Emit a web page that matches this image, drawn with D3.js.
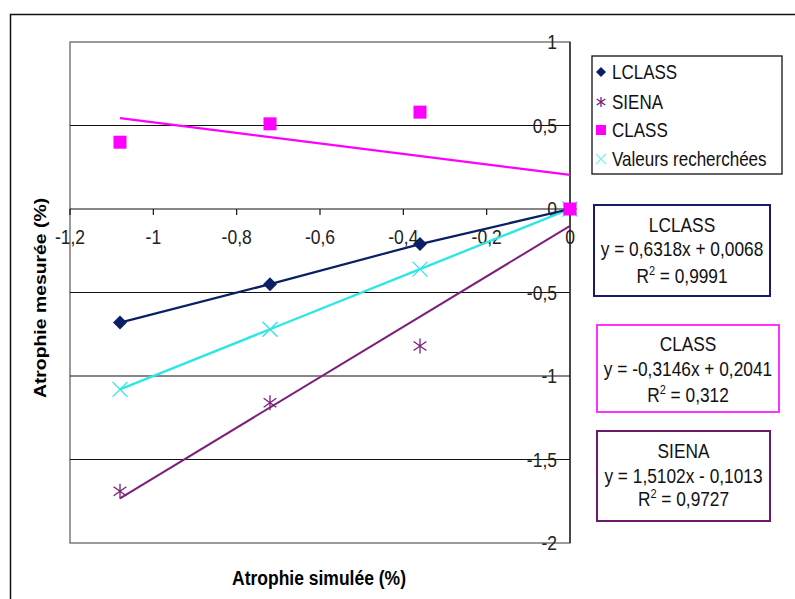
<!DOCTYPE html>
<html><head><meta charset="utf-8">
<script src="https://cdn.jsdelivr.net/npm/d3@7"></script>
<style>body{margin:0;background:#fff}svg{display:block}text{font-family:Arial,"Liberation Sans",sans-serif}</style>
</head><body><svg id="c" width="795" height="599"></svg>
<script>
const xValues = [-1.08, -0.72, -0.36, 0];
const lclass = [-0.68, -0.45, -0.21, 0];
const siena = [-1.69, -1.16, -0.82, 0];
const classV = [0.40, 0.51, 0.58, 0];
const valeurs = [-1.08, -0.72, -0.36, 0];
const xTicks = [-1.2, -1, -0.8, -0.6, -0.4, -0.2, 0];
const yTicks = [1, 0.5, 0, -0.5, -1, -1.5, -2];
const seriesNames = ["LCLASS", "SIENA", "CLASS", "Valeurs recherchées"];
const trendNames = ["LCLASS", "CLASS", "SIENA"];
const trendSlopes = [0.6318, -0.3146, 1.5102];
const trendIntercepts = [0.0068, 0.2041, -0.1013];
const trendEq = ["y = 0,6318x + 0,0068", "y = -0,3146x + 0,2041", "y = 1,5102x - 0,1013"];
const trendR2 = ["0,9991", "0,312", "0,9727"];

const C = {navy:"#0b1f66", purple:"#7b1f7b", magenta:"#ff00ff", cyan:"#2ee6e6", box1:"#1a1a6a", box2:"#ff33ff", box3:"#6a1a6a"};
const SY = 1.14;
const svg = d3.select("#c");
const x = d3.scaleLinear().domain([-1.2, 0]).range([70, 570]);
const y = d3.scaleLinear().domain([-2, 1]).range([543, 42]);
const fmt = v => String(v).replace(".", ",");
const place = (sel, fx, fy) => sel.attr("transform", (d,i) => `translate(${typeof fx==="function"?fx(d,i):fx},${typeof fy==="function"?fy(d,i):fy}) scale(1,${SY})`);

// outer frame
svg.append("path").attr("d","M10.5,600 V14.5 H800").attr("fill","none").attr("stroke","#111").attr("stroke-width",1.5);

// plot area border
svg.append("rect").attr("x",70).attr("y",42).attr("width",500).attr("height",501)
  .attr("fill","none").attr("stroke","#666").attr("stroke-width",1.3);
// gridlines
svg.append("g").selectAll("line").data(yTicks.filter(d=>d>-2 && d<1)).join("line")
  .attr("x1",70).attr("x2",570).attr("y1",d=>y(d)).attr("y2",d=>y(d))
  .attr("stroke","#111").attr("stroke-width",1.2);
// y axis line at x=0
svg.append("line").attr("x1",x(0)).attr("x2",x(0)).attr("y1",42).attr("y2",543).attr("stroke","#111").attr("stroke-width",1.2);
// x ticks
svg.append("g").selectAll("line").data(xTicks).join("line")
  .attr("x1",d=>x(d)).attr("x2",d=>x(d)).attr("y1",y(0)).attr("y2",y(0)+6).attr("stroke","#111").attr("stroke-width",1.2);
place(svg.append("g").selectAll("text").data(xTicks).join("text")
  .attr("text-anchor","middle").attr("font-size",17.5).attr("fill","#222")
  .text(d=>fmt(d)), d=>x(d), y(0)+35);
place(svg.append("g").selectAll("text").data(yTicks).join("text")
  .attr("text-anchor","end").attr("font-size",17.5).attr("fill","#222")
  .text(d=>fmt(d)), 557, d=>y(d)+7);

// axis titles
place(svg.append("text").attr("text-anchor","middle").attr("font-size",17.5).attr("font-weight","bold").text("Atrophie simulée (%)"), 319, 585);
svg.append("text").attr("transform",`translate(46,298) rotate(-90) scale(${SY},1)`).attr("text-anchor","middle").attr("font-size",17).attr("font-weight","bold").text("Atrophie mesurée (%)");

// trendlines
const x0 = d3.min(xValues), x1 = d3.max(xValues);
const trendColors = [C.navy, C.magenta, C.purple];
trendNames.forEach((n,i)=>{
  if (n === "LCLASS") return;
  svg.append("line").attr("x1",x(x0)).attr("y1",y(trendSlopes[i]*x0+trendIntercepts[i]))
    .attr("x2",x(x1)).attr("y2",y(trendSlopes[i]*x1+trendIntercepts[i]))
    .attr("stroke",trendColors[i]).attr("stroke-width",n==="CLASS"?2.2:2);
});
// connected lines
const line = d3.line().x((d,i)=>x(xValues[i])).y(d=>y(d));
svg.append("path").datum(valeurs).attr("d",line).attr("fill","none").attr("stroke",C.cyan).attr("stroke-width",2.4);
svg.append("path").datum(lclass).attr("d",line).attr("fill","none").attr("stroke",C.navy).attr("stroke-width",2.2);

// markers
function diamond(g,cx,cy,s,col){g.append("path").attr("d",`M${cx},${cy-s} L${cx+s},${cy} L${cx},${cy+s} L${cx-s},${cy} Z`).attr("fill",col);}
function star(g,cx,cy,s,col){
  g.append("path").attr("d",`M${cx},${cy-s} V${cy+s} M${cx-s*0.85},${cy-s*0.6} L${cx+s*0.85},${cy+s*0.6} M${cx-s*0.85},${cy+s*0.6} L${cx+s*0.85},${cy-s*0.6}`)
   .attr("stroke",col).attr("stroke-width",1.3).attr("fill","none");}
function cross(g,cx,cy,s,col){g.append("path").attr("d",`M${cx-s},${cy-s} L${cx+s},${cy+s} M${cx-s},${cy+s} L${cx+s},${cy-s}`).attr("stroke",col).attr("stroke-width",1.3).attr("fill","none");}
function square(g,cx,cy,s,col){g.append("rect").attr("x",cx-s).attr("y",cy-s).attr("width",2*s).attr("height",2*s).attr("fill",col);}

const mk = svg.append("g");
valeurs.forEach((v,i)=>cross(mk,x(xValues[i]),y(v),7.5,C.cyan));
siena.forEach((v,i)=>star(mk,x(xValues[i]),y(v),7.5,C.purple));
lclass.forEach((v,i)=>diamond(mk,x(xValues[i]),y(v),7,C.navy));
classV.forEach((v,i)=>square(mk,x(xValues[i]),y(v),6.5,C.magenta));

// legend
const lg = svg.append("g");
lg.append("rect").attr("x",592).attr("y",56).attr("width",190).attr("height",118).attr("fill","#fff").attr("stroke","#111").attr("stroke-width",1.3);
const legY = [72, 102, 130, 159];
const legDraw = [
  (cx,cy)=>diamond(lg,cx,cy,5,C.navy),
  (cx,cy)=>star(lg,cx,cy,5,C.purple),
  (cx,cy)=>square(lg,cx,cy,5,C.magenta),
  (cx,cy)=>cross(lg,cx,cy,5,"#7ff0f0")
];
seriesNames.forEach((n,i)=>{
  legDraw[i](601, legY[i]);
  place(lg.append("text").attr("font-size",17).attr("fill","#111").text(n), 612, legY[i]+7);
});

// equation boxes
const boxes = [
  {x:594,y:205,w:176,h:91,col:C.box1,ty:[225,249,276]},
  {x:597,y:325,w:182,h:87,col:C.box2,ty:[344,369,395]},
  {x:597,y:431,w:173,h:90,col:C.box3,ty:[451,476,499]}
];
trendNames.forEach((n,i)=>{
  const b = boxes[i];
  const g = svg.append("g");
  g.append("rect").attr("x",b.x).attr("y",b.y).attr("width",b.w).attr("height",b.h).attr("fill","#fff").attr("stroke",b.col).attr("stroke-width",2);
  const cx = b.x + b.w/2;
  place(g.append("text").attr("text-anchor","middle").attr("font-size",17.3).attr("fill","#111").text(n), cx, b.ty[0]+7);
  place(g.append("text").attr("text-anchor","middle").attr("font-size",17.3).attr("fill","#111").text(trendEq[i]), cx, b.ty[1]+7);
  const t = place(g.append("text").attr("text-anchor","middle").attr("font-size",17.3).attr("fill","#111"), cx, b.ty[2]+7);
  t.append("tspan").text("R");
  t.append("tspan").attr("dy",-7).attr("font-size",11).text("2");
  t.append("tspan").attr("dy",7).text(" = " + trendR2[i]);
});
</script></body></html>
